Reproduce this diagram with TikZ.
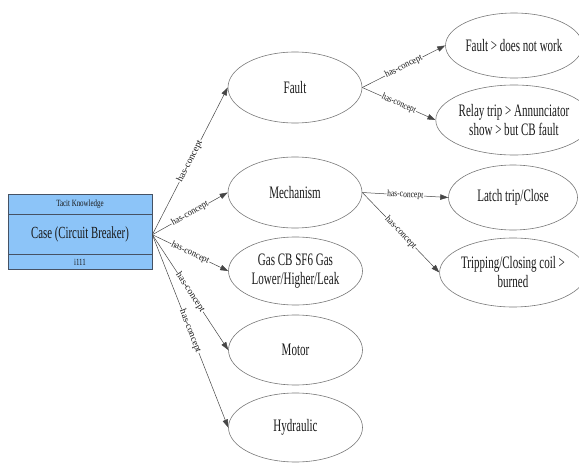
\documentclass[tikz,border=0pt]{standalone}
\usepackage{fontspec}
\setmainfont{Liberation Serif}
\newfontfamily\ellfont[FakeStretch=0.63]{Liberation Serif}
\newfontfamily\casefont[FakeStretch=0.635]{Liberation Serif}
\newfontfamily\cellfont[FakeStretch=0.73]{Liberation Serif}
\newfontfamily\edgeflat[FakeStretch=0.8]{Liberation Serif}
\newfontfamily\edgemid[FakeStretch=0.9]{Liberation Serif}
\newfontfamily\edgesteep[FakeStretch=1.0]{Liberation Serif}
\usetikzlibrary{shapes.geometric,arrows.meta}
\definecolor{cellblue}{RGB}{140,196,248}
\definecolor{cellline}{RGB}{70,82,100}
\definecolor{ringgray}{RGB}{120,120,120}
\definecolor{linkgray}{RGB}{70,70,70}
\definecolor{ink}{RGB}{25,25,25}
\tikzset{
  cell/.style={rectangle, draw=cellline, fill=cellblue, line width=0.7pt,
    minimum width=144pt, inner sep=0pt, text=ink},
  concept/.style={ellipse, draw=ringgray, line width=0.6pt, inner sep=0pt,
    minimum width=134pt, minimum height=70pt, align=center, text=ink,
    font=\ellfont\fontsize{17.5}{19}\selectfont},
  leaf/.style={concept, minimum width=129pt, minimum height=67pt},
  link/.style={draw=linkgray, line width=0.5pt,
    -{Triangle[length=8pt,width=5.5pt]}},
  tag/.style={sloped, fill=white, inner sep=0.6pt, text=ink,
    font=\edgeflat\fontsize{9.5}{10}\selectfont},
  tagmid/.style={tag, font=\edgemid\fontsize{9.5}{10}\selectfont},
  tagsteep/.style={tag, font=\edgesteep\fontsize{9.5}{10}\selectfont}
}
\begin{document}
\begin{tikzpicture}[x=1pt,y=-1pt]
  \useasboundingbox (0,0) rectangle (579,463);
  % record node: three stacked cells
  \node[cell, minimum height=20pt, font=\cellfont\fontsize{9.5}{10}\selectfont]
    (title) at (80,204.7) {Tacit Knowledge};
  \node[cell, minimum height=40pt, font=\casefont\fontsize{17}{18}\selectfont]
    (case) at (80,234.7) {Case (Circuit Breaker)};
  \node[cell, minimum height=14.6pt, font=\cellfont\fontsize{9.5}{10}\selectfont]
    (id) at (80,262) {i111};

  % first-level concepts
  \node[concept, minimum height=71pt] (fault) at (295,87.5) {Fault};
  \node[concept, minimum height=71pt] (mech) at (295,192.5) {Mechanism};
  \node[concept, minimum height=68pt] (gas) at (295.5,271) {Gas CB SF6 Gas\\Lower/Higher/Leak};
  \node[concept] (motor) at (295.5,350) {Motor};
  \node[concept, minimum height=69pt] (hyd) at (295.5,427.5) {Hydraulic};

  % second-level concepts
  \node[leaf, minimum height=65pt] (nowork) at (514,45.5) {Fault > does not work};
  \node[leaf, minimum height=70pt] (relay) at (514,120) {Relay trip > Annunciator\\show > but CB fault};
  \node[leaf, minimum height=65pt] (latch) at (513,197.5) {Latch trip/Close};
  \node[leaf, minimum height=69pt] (coil) at (513,272.5) {Tripping/Closing coil >\\burned};

  % relations
  \draw[link] (case.east) -- node[tagsteep] {has-concept} (fault.west);
  \draw[link] (case.east) -- node[tagmid] {has-concept} (mech.west);
  \draw[link] (case.east) -- node[tagmid] {has-concept} (gas.west);
  \draw[link] (case.east) -- node[tagsteep] {has-concept} (motor.west);
  \draw[link] (case.east) -- node[tagsteep] {has-concept} (hyd.west);
  \draw[link] (fault.east) -- node[tagmid] {has-concept} (nowork.west);
  \draw[link] (fault.east) -- node[tag] {has-concept} (relay.west);
  \draw[link] (mech.east) -- node[tag] {has-concept} (latch.west);
  \draw[link] (mech.east) -- node[tagmid] {has-concept} (coil.west);
\end{tikzpicture}
\end{document}
